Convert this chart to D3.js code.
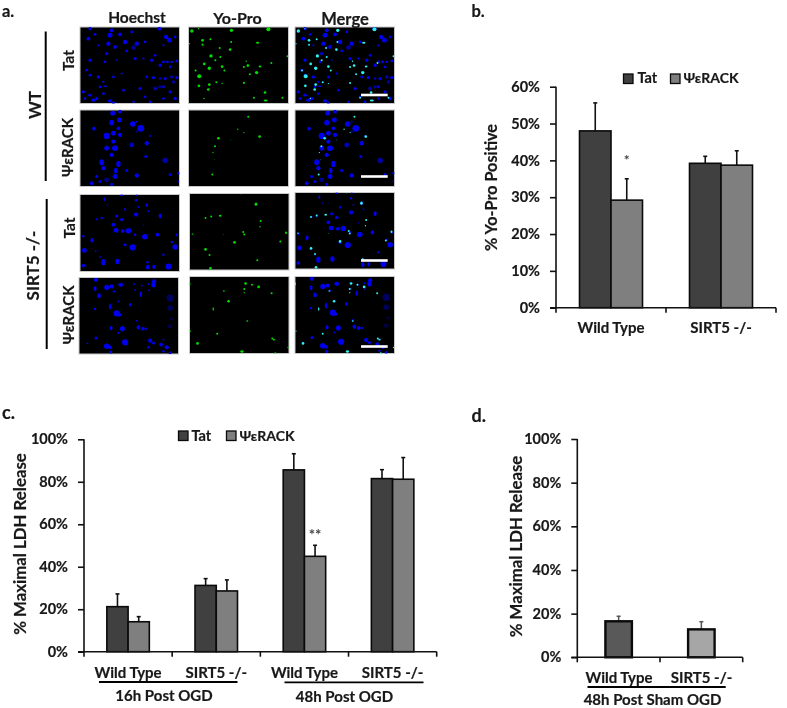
<!DOCTYPE html>
<html>
<head>
<meta charset="utf-8">
<script src="https://cdn.jsdelivr.net/npm/d3@7"></script>
<style>
html,body{margin:0;padding:0;background:#fff;}
svg{display:block;filter:blur(0.35px);}
text{font-family:Lato,"Noto Sans",sans-serif;font-weight:700;fill:#181818;stroke:#181818;stroke-width:0.2px;}
</style>
</head>
<body>
<div id="chart"></div>
<script>
// ---------- Bar chart data ----------
const seriesNames = ["Tat", "ΨεRACK"];

const bCategories = ["Wild Type", "SIRT5 -/-"];
const bTat = [48, 39.2];
const bPsi = [29.2, 38.7];
const bTatTop = [55.6, 41.1];
const bPsiTop = [35, 42.6];
const bTicks = [0, 10, 20, 30, 40, 50, 60];

const cCategories = ["16h Wild Type", "16h SIRT5 -/-", "48h Wild Type", "48h SIRT5 -/-"];
const cCategoryLabels = ["Wild Type", "SIRT5 -/-", "Wild Type", "SIRT5 -/-"];
const cTat = [21.2, 31.2, 85.6, 81.5];
const cPsi = [14.1, 28.6, 44.9, 81.2];
const cTatTop = [27.2, 34.4, 93.2, 85.7];
const cPsiTop = [16.5, 33.8, 50.1, 91.4];
const cdTicks = [0, 20, 40, 60, 80, 100];

const dCategories = ["Wild Type", "SIRT5 -/-"];
const dValues = [16.5, 12.8];
const dTop = [18.8, 16.3];

// ---------- Micrograph nuclei: [x, y, rx, ry, opacity] in image-grid units ----------
const wtTatHoechst = [[30,5,6,6],[25,35,7,7],[45,22,5,5],[55,55,4,4],[90,25,9,9],[95,10,7,7],[120,22,7,7],[85,50,8,8],[105,60,7,7],[135,45,8,8],[155,15,5,5],[170,50,8,8],[160,62,9,9,.6],[140,72,5,5],[195,45,5,5],[238,5,8,6],[258,30,8,8],[268,40,9,9],[285,30,5,5],[250,55,4,4],[225,85,5,5],[80,80,6,6],[75,105,5,5],[30,100,6,6],[20,130,5,5],[110,100,4,4,.7],[165,95,6,6],[190,95,4,4],[215,100,6,6],[250,105,5,5],[262,105,5,5],[275,105,5,4],[290,102,5,5],[240,115,6,6],[270,120,5,5],[30,145,5,5],[55,150,6,6],[70,165,4,4],[100,150,5,5],[125,140,4,4],[200,150,5,5],[220,152,6,6],[240,155,5,5,.7],[255,155,6,6],[275,150,7,6,.7],[290,152,6,6],[280,165,6,6,.7],[60,180,5,5],[75,178,8,3],[10,195,6,6],[30,205,7,5],[50,215,6,6],[70,200,5,5],[90,222,8,6],[100,228,6,5],[130,190,5,5],[180,185,6,6],[195,210,5,5],[210,225,5,5],[225,185,7,7,.7],[240,180,7,6,.6],[250,180,5,5],[270,195,6,6],[15,215,5,5],[40,220,8,6],[285,215,6,6],[160,225,5,4],[250,215,5,5]];
const wtTatYoPro = [[575,92,5,5],[595,85,2,2],[693,90,5,5],[803,87,6,6],[607,120,4,4],[630,117,3,3],[607,133,3,3],[692,125,3,3],[771,127,5,3],[689,148,4,4],[632,167,5,5],[658,143,3,3],[660,170,3,3],[645,180,3,3],[612,191,4,4],[586,211,3,3],[627,204,5,5],[665,199,4,4],[672,211,3,3],[737,183,2,2],[742,196,4,4],[730,200,3,3],[778,199,4,3],[812,188,3,3],[768,217,5,5],[748,222,3,3],[597,228,6,6],[860,168,3,3],[627,253,4,4],[596,257,4,4],[648,246,3,3],[665,250,2,2],[730,248,3,3],[624,268,4,4],[793,277,4,4],[760,293,3,3],[795,301,6,3],[845,293,3,3],[611,295,2,2],[568,130,2,2]];

const wtPsiHoechst = [[42,56,6,6],[98,10,8,8],[120,5,6,6],[95,38,8,9],[118,30,8,8],[158,42,9,9],[182,55,11,11],[115,55,6,6],[80,78,10,10],[100,70,8,8],[120,75,7,7],[100,95,7,7],[155,105,8,8,.8],[200,100,7,7],[80,115,8,8],[105,115,10,9],[95,135,7,7],[65,157,8,10],[115,162,7,10],[197,140,5,5],[255,152,9,9,.7],[70,175,7,7],[107,182,6,9],[140,182,5,5],[80,210,8,8,.6],[105,200,8,8],[50,200,5,5],[35,220,6,6],[60,215,5,5],[170,197,7,7],[270,194,5,5],[295,190,4,4],[295,215,3,3],[95,223,5,5],[170,35,3,3],[210,78,3,3],[170,65,4,4,.5]];
const wtPsiYoPro = [[743,350,3,3],[712,388,2,2],[654,415,4,4],[777,410,4,4],[644,439,3,3],[638,458,2,2],[730,398,2,2],[642,478,1,1],[636,524,3,3],[690,420,1,1]];

const koTatHoechst = [[313,42,3,6],[365,30,5,3],[408,45,4,4],[410,30,3,3],[440,60,4,6],[322,60,2,2],[375,72,3,5],[415,65,3,3],[408,88,7,7],[445,78,3,3],[480,92,5,8],[305,98,4,4],[290,102,3,3],[365,103,6,5],[350,92,5,5],[340,118,6,6],[348,135,8,8],[368,137,6,6],[385,136,9,9],[405,148,4,4],[434,154,9,9],[472,148,6,6],[430,120,3,3,.6],[530,148,3,5],[250,153,4,4],[276,165,5,8],[375,178,5,5],[398,186,10,10],[525,185,9,9],[515,170,4,4],[253,195,8,8],[287,197,3,3],[300,215,3,3],[310,230,7,10],[352,228,7,9],[490,208,4,4],[250,240,6,6],[442,230,4,4],[443,245,6,8],[461,244,5,7],[505,243,10,10]];
const koTatYoPro = [[768,57,4,5],[723,28,1,1],[617,99,3,3],[634,94,3,3],[661,92,4,3],[782,108,3,3],[780,125,2,2],[578,147,3,2],[730,141,3,3],[733,148,3,3],[858,143,3,4],[670,148,1,1],[704,172,4,4],[841,169,3,3],[617,193,4,4],[629,210,3,3],[772,226,3,3],[632,250,4,4]];

const koPsiHoechst = [[288,285,7,7],[285,312,5,8],[297,333,6,8],[320,308,8,9],[335,305,7,7],[362,300,8,7],[342,320,5,3],[402,298,3,3],[425,302,3,3],[445,298,3,3],[462,290,7,7],[460,300,7,9],[405,315,3,3],[422,328,4,9],[447,316,3,3],[330,365,4,9],[355,350,3,3],[285,373,4,4],[390,360,4,6],[350,386,10,10],[358,390,6,6],[410,408,3,3],[333,430,5,7],[367,432,8,9],[355,445,3,3],[415,428,6,7],[428,432,6,6],[437,432,4,4],[288,460,5,5],[262,476,3,3],[375,473,10,10],[320,485,9,9],[330,488,6,6],[450,468,7,7],[460,475,5,5],[483,480,6,6],[500,488,7,7],[490,465,3,3],[510,340,12,12,.4],[510,370,9,9,.4],[510,425,7,7,.35],[515,402,5,5,.3],[510,505,5,5],[490,500,4,4],[445,488,4,4],[332,502,5,5]];
const koPsiYoPro = [[570,297,2,5],[737,296,4,4],[756,300,3,3],[776,306,4,4],[733,312,3,3],[733,323,2,2],[672,318,3,2],[815,325,3,3],[686,349,4,4],[640,372,2,5],[742,408,3,2],[572,438,2,2],[652,446,3,3],[817,460,3,3],[822,464,4,2],[593,475,4,4],[726,499,5,4],[826,504,3,3],[864,487,2,2]];

const columnTitles = ["Hoechst", "Yo-Pro", "Merge"];

// ---------- Drawing ----------
const W = 787, H = 708;
const svg = d3.select("#chart").append("svg").attr("width", W).attr("height", H);
const defs = svg.append("defs");
defs.append("filter").attr("id", "soft").append("feGaussianBlur").attr("stdDeviation", 0.45);
const BLUE = "#0505ee", GREEN = "#00e000", CYAN = "#30f0f0";

function cells(g, list, ox, oy, box, color, shrink) {
  const sx = d3.scaleLinear().domain([ox, ox + 298]).range([box[0], box[2]]);
  const sy = d3.scaleLinear().domain([oy, oy + 230]).range([box[1], box[3]]);
  const k = (box[2] - box[0]) / 298 * shrink;
  g.selectAll(null).data(list).join("ellipse")
    .attr("cx", d => sx(d[0])).attr("cy", d => sy(d[1]))
    .attr("rx", d => d[2] * k).attr("ry", d => d[3] * k)
    .attr("fill", color).attr("opacity", d => d[4] === undefined ? 1 : d[4]);
}
function micro(id, box, layers) {
  defs.append("clipPath").attr("id", id).append("rect")
    .attr("x", box[0]).attr("y", box[1]).attr("width", box[2] - box[0]).attr("height", box[3] - box[1]);
  svg.append("rect").attr("x", box[0]).attr("y", box[1]).attr("width", box[2] - box[0]).attr("height", box[3] - box[1])
    .attr("fill", "#000").attr("stroke", "#c8c8c8").attr("stroke-width", 1);
  const g = svg.append("g").attr("clip-path", `url(#${id})`).append("g").attr("filter", "url(#soft)");
  layers.forEach(l => cells(g, l[0], l[1], l[2], box, l[3], l[4]));
}
const rows = [
  {h: wtTatHoechst, ho: [0, 0], y: wtTatYoPro, yo: [565, 80], hs: 0.82,
   boxes: [[80,27,179.5,103.5],[188.5,27,288.5,103.5],[295,27,394.5,103.5]], bar: 95},
  {h: wtPsiHoechst, ho: [0, 0], y: wtPsiYoPro, yo: [565, 330], hs: 0.92,
   boxes: [[80,110,179.5,186.5],[188.5,110,288.5,186.5],[295,110,394.5,186.5]], bar: 176.5},
  {h: koTatHoechst, ho: [240, 28], y: koTatYoPro, yo: [569, 25], hs: 0.92,
   boxes: [[80,194.5,179.5,271.5],[189.5,193.5,289,270],[295,192.5,394.5,269]], bar: 260.5},
  {h: koPsiHoechst, ho: [237, 278], y: koPsiYoPro, yo: [569, 275], hs: 0.92,
   boxes: [[79,277.5,178.5,354],[189.5,276.5,289,353.5],[295,276.5,394.5,353.5]], bar: 346.5}
];
rows.forEach((r, i) => {
  micro(`m${i}a`, r.boxes[0], [[r.h, r.ho[0], r.ho[1], BLUE, r.hs]]);
  micro(`m${i}b`, r.boxes[1], [[r.y, r.yo[0], r.yo[1], GREEN, 1]]);
  micro(`m${i}c`, r.boxes[2], [[r.h, r.ho[0], r.ho[1], BLUE, r.hs], [r.y, r.yo[0], r.yo[1], CYAN, 1]]);
  svg.append("rect").attr("x", 361).attr("y", r.bar - 1.3).attr("width", 26.7).attr("height", 2.6).attr("fill", "#fff");
});

function label(x, y, txt, size, anchor, rot) {
  const t = svg.append("text").attr("x", x).attr("y", y).text(txt)
    .attr("font-size", size).attr("text-anchor", anchor || "middle");
  if (rot) t.attr("transform", `rotate(${rot} ${x} ${y})`);
  return t;
}
// panel a labels
[[137, 22.5, 15.5], [237.5, 24, 16], [345, 24.5, 16.5]].forEach((p, i) => label(p[0], p[1], columnTitles[i], p[2]));
label(74, 60.5, "Tat", 15.5, "middle", -90);
label(73, 147.5, seriesNames[1], 15, "middle", -90);
label(75, 228, "Tat", 15.5, "middle", -90);
label(74, 315, seriesNames[1], 15, "middle", -90);
label(41, 105, "WT", 17, "middle", -90);
label(39, 265.5, "SIRT5 -/-", 17, "middle", -90);
svg.append("line").attr("x1", 45.7).attr("x2", 45.7).attr("y1", 31.5).attr("y2", 181).attr("stroke", "#000").attr("stroke-width", 2);
svg.append("line").attr("x1", 46.7).attr("x2", 46.7).attr("y1", 199).attr("y2", 349).attr("stroke", "#000").attr("stroke-width", 2);

// panel letters
label(2, 17, "a.", 16.5, "start");
label(471.5, 17, "b.", 16.5, "start");
label(2, 419, "c.", 18, "start");
label(471.5, 421.5, "d.", 18, "start");

function axes(cfg) {
  const y = d3.scaleLinear().domain(cfg.domain).range([cfg.y0, cfg.y1]);
  const x = d3.scaleBand().domain(cfg.cats).range([cfg.x0, cfg.x1]);
  const gy = svg.append("g").attr("transform", `translate(${cfg.x0},0)`)
    .call(d3.axisLeft(y).tickValues(cfg.ticks).tickFormat(d => d + "%").tickSize(6).tickPadding(cfg.pad));
  gy.attr("font-family", null).attr("font-size", null);
  gy.selectAll("path").attr("d", `M0,${cfg.y0}V${cfg.y1}`).attr("stroke", "#111").attr("stroke-width", 1.6);
  gy.selectAll("line").attr("stroke", "#111").attr("stroke-width", 1.6);
  gy.selectAll("text").attr("font-size", 14.5).attr("fill", "#181818");
  return {x, y};
}
function xAxisLine(cfg, x) {
  const gx = svg.append("g").attr("transform", `translate(0,${cfg.y0})`)
    .call(d3.axisBottom(x).tickValues([]).tickSize(0));
  gx.select("path").attr("d", `M${cfg.x0 - 6},0H${cfg.x1}`).attr("stroke", "#111").attr("stroke-width", 1.6);
  const edges = x.domain().map(c => x(c)).concat([cfg.x1]);
  svg.append("g").selectAll("line").data(edges).join("line")
    .attr("x1", d => d).attr("x2", d => d).attr("y1", cfg.y0).attr("y2", cfg.y0 + 5)
    .attr("stroke", "#111").attr("stroke-width", 1.6);
}
function groupedBars(cfg, tat, psi, tatTop, psiTop, padOuter, capW) {
  const {x, y} = axes(cfg);
  const inner = d3.scaleBand().domain(seriesNames).range([0, x.bandwidth()]).paddingInner(0).paddingOuter(padOuter);
  const series = [[seriesNames[0], tat, tatTop, "#404040"], [seriesNames[1], psi, psiTop, "#7f7f7f"]];
  series.forEach(s => {
    const g = svg.append("g");
    cfg.cats.forEach((c, i) => {
      const bx = x(c) + inner(s[0]), cx = bx + inner.bandwidth() / 2;
      g.append("line").attr("x1", cx).attr("x2", cx).attr("y1", y(s[1][i])).attr("y2", y(s[2][i])).attr("stroke", "#111").attr("stroke-width", 1.6);
      g.append("line").attr("x1", cx - capW).attr("x2", cx + capW).attr("y1", y(s[2][i])).attr("y2", y(s[2][i])).attr("stroke", "#111").attr("stroke-width", 1.6);
      g.append("rect").attr("x", bx).attr("y", y(s[1][i])).attr("width", inner.bandwidth()).attr("height", y(0) - y(s[1][i]))
        .attr("fill", s[3]).attr("stroke", "#0a0a0a").attr("stroke-width", 1.6);
    });
  });
  xAxisLine(cfg, x);
  return {x, y, inner};
}
function legend(s1, t1, s2, t2, yTop, baseline) {
  [[s1, "#404040"], [s2, "#7f7f7f"]].forEach(p => {
    svg.append("rect").attr("x", p[0]).attr("y", yTop).attr("width", 9.5).attr("height", 9.5)
      .attr("fill", p[1]).attr("stroke", "#0a0a0a").attr("stroke-width", 1.3);
  });
  label(t1, baseline, seriesNames[0], 14.5, "start");
  label(t2, baseline, seriesNames[1], 14, "start");
}

// panel b
const bCfg = {domain: [0, 60], y0: 307.7, y1: 86.7, x0: 556, x1: 776, cats: bCategories, ticks: bTicks, pad: 10};
const bS = groupedBars(bCfg, bTat, bPsi, bTatTop, bPsiTop, 0.746, 2);
bCategories.forEach(c => label(bS.x(c) + bS.x.bandwidth() / 2, 333, c, 15));
label(497, 187.5, "% Yo-Pro Positive", 16.2, "middle", -90);
legend(623.5, 637.5, 670.5, 683.5, 74, 83);
label(bS.x(bCategories[0]) + bS.inner(seriesNames[1]) + bS.inner.bandwidth() / 2, 165, "*", 14).style("fill", "#444").style("stroke", "none");

// panel c
const cCfg = {domain: [0, 100], y0: 651.7, y1: 439.3, x0: 84, x1: 436.7, cats: cCategories, ticks: cdTicks, pad: 10};
const cS = groupedBars(cCfg, cTat, cPsi, cTatTop, cPsiTop, 1.076, 2);
cCategories.forEach((c, i) => label(cS.x(c) + cS.x.bandwidth() / 2, 677.5, cCategoryLabels[i], 15));
svg.append("line").attr("x1", 99).attr("x2", 237.5).attr("y1", 682).attr("y2", 682).attr("stroke", "#000").attr("stroke-width", 1.8);
svg.append("line").attr("x1", 284.5).attr("x2", 423.5).attr("y1", 682.3).attr("y2", 682.3).attr("stroke", "#000").attr("stroke-width", 1.8);
label(164, 700.5, "16h Post OGD", 15);
label(344.5, 702, "48h Post OGD", 15);
label(26, 544, "% Maximal LDH Release", 16.8, "middle", -90);
legend(178.5, 191.5, 226.5, 239.5, 431, 441);
label(cS.x(cCategories[2]) + cS.inner(seriesNames[1]) + cS.inner.bandwidth() / 2, 540, "**", 15).style("fill", "#444").style("stroke", "none");

// panel d
const dCfg = {domain: [0, 100], y0: 657.3, y1: 439, x0: 577.3, x1: 742.7, cats: dCategories, ticks: cdTicks, pad: 10};
const dA = axes(dCfg);
const dBar = d3.scaleBand().domain(dCategories).range([dCfg.x0, dCfg.x1]);
const dWidth = 26.5, dFill = ["#595959", "#a6a6a6"];
const dg = svg.append("g");
dg.selectAll(".err").data(dCategories).join("line")
  .attr("x1", d => dBar(d) + dBar.bandwidth() / 2).attr("x2", d => dBar(d) + dBar.bandwidth() / 2)
  .attr("y1", (d, i) => dA.y(dValues[i])).attr("y2", (d, i) => dA.y(dTop[i])).attr("stroke", "#555").attr("stroke-width", 1.5);
dg.selectAll(".cap").data(dCategories).join("line")
  .attr("x1", d => dBar(d) + dBar.bandwidth() / 2 - 2).attr("x2", d => dBar(d) + dBar.bandwidth() / 2 + 2)
  .attr("y1", (d, i) => dA.y(dTop[i])).attr("y2", (d, i) => dA.y(dTop[i])).attr("stroke", "#555").attr("stroke-width", 1.5);
dg.selectAll("rect").data(dCategories).join("rect")
  .attr("x", d => dBar(d) + (dBar.bandwidth() - dWidth) / 2).attr("width", dWidth)
  .attr("y", (d, i) => dA.y(dValues[i])).attr("height", (d, i) => dA.y(0) - dA.y(dValues[i]))
  .attr("fill", (d, i) => dFill[i]).attr("stroke", "#0a0a0a").attr("stroke-width", 2.4);
xAxisLine(dCfg, dBar);
label(619, 683, dCategories[0], 15);
label(701.5, 683, dCategories[1], 15);
svg.append("line").attr("x1", 587.5).attr("x2", 725.7).attr("y1", 687).attr("y2", 687).attr("stroke", "#000").attr("stroke-width", 1.8);
label(652.5, 705, "48h Post Sham OGD", 15);
label(521.5, 546.5, "% Maximal LDH Release", 16.8, "middle", -90);
</script>
</body>
</html>
